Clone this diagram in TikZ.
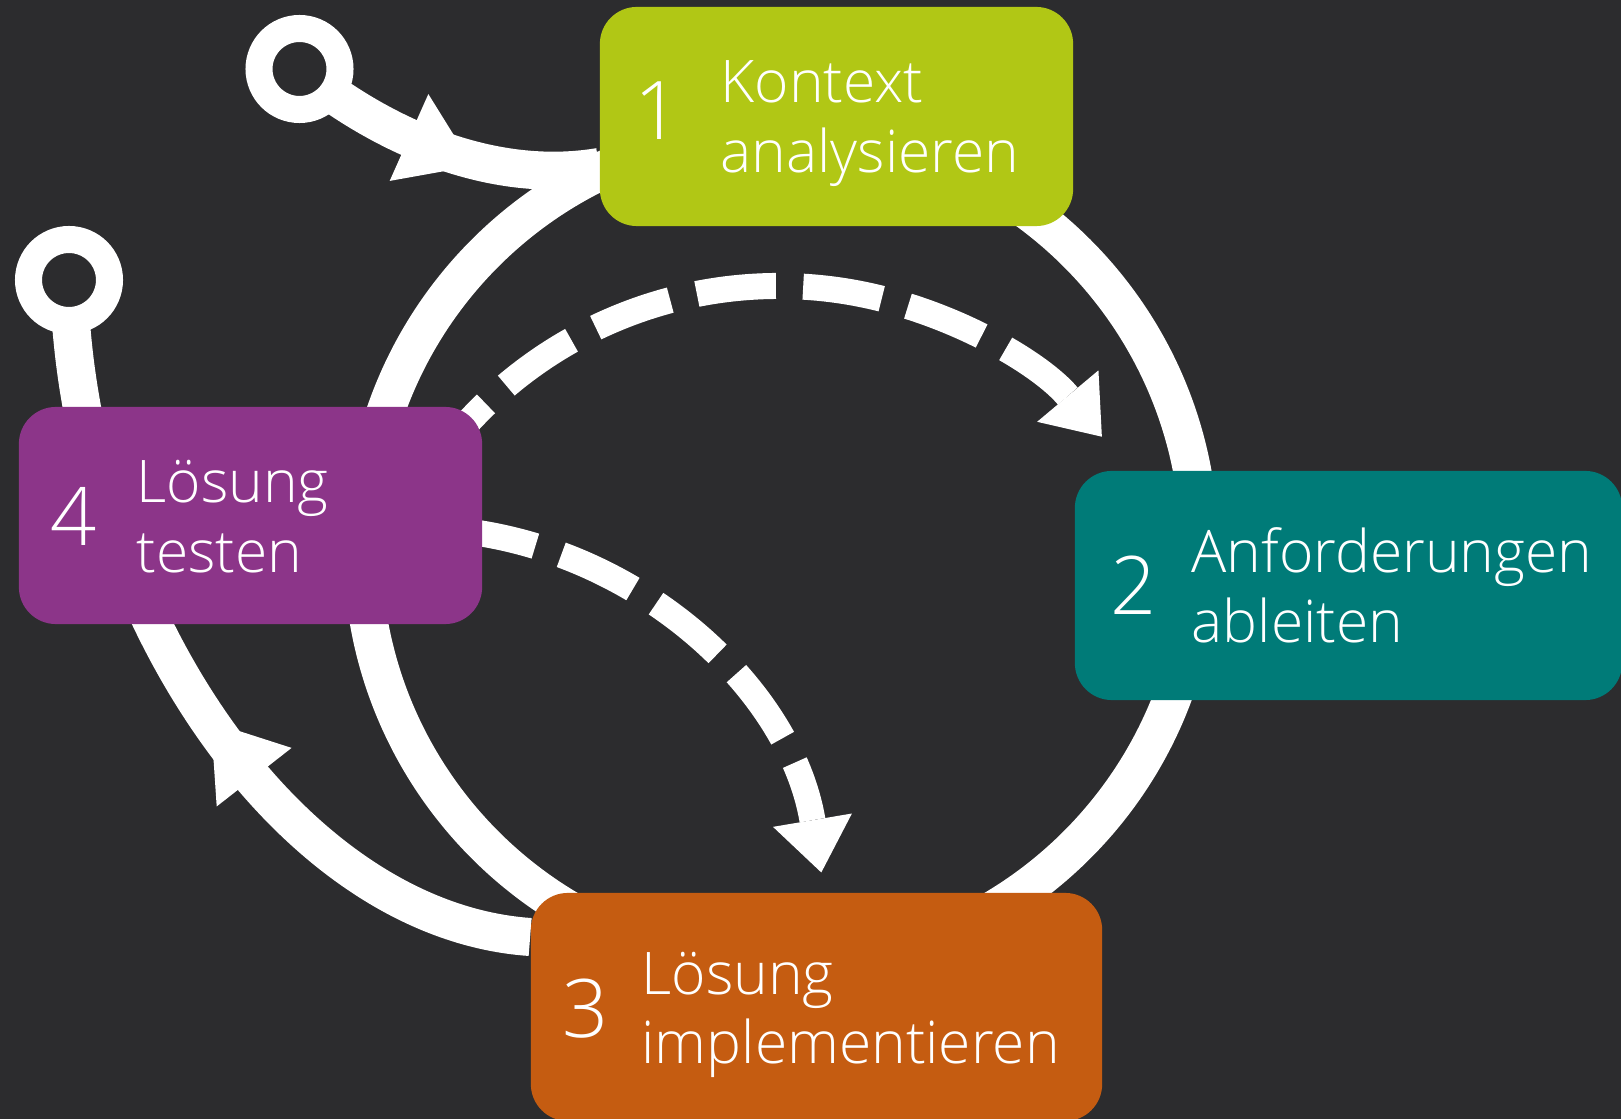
\documentclass[tikz,border=0pt]{standalone}
\usepackage{fontspec}
\setmainfont{Open Sans}[UprightFont=* Light]
\usetikzlibrary{arrows.meta,backgrounds}
\definecolor{bg}{RGB}{44,44,46}
\definecolor{kontextgreen}{RGB}{177,199,21}
\definecolor{anfordteal}{RGB}{0,123,120}
\definecolor{implemorange}{RGB}{197,92,17}
\definecolor{testenpurple}{RGB}{140,53,137}
\tikzset{
  every node/.style={inner sep=0pt, text=white},
  stepbox/.style={rectangle, rounded corners=0.37cm},
  stepnum/.style={anchor=base west, font=\fontsize{23}{23}\selectfont},
  steptext/.style={anchor=base west, font=\fontsize{16.7}{19.9}\selectfont},
  cycleline/.style={white, line width=0.38cm},
  startring/.style={draw=white, fill=bg, line width=0.27cm},
  skipline/.style={white, line width=0.26cm, dash pattern=on 0.795cm off 0.273cm,
    -{Triangle[length=0.53cm, width=0.8cm, line width=0pt]}},
  midhead/.style={white, line width=0.4pt, -{Triangle[length=0.7cm, width=0.95cm, line width=0pt]}}
}

\begin{document}
\begin{tikzpicture}[x=0.01cm, y=-0.01cm]
  \useasboundingbox (0,0) rectangle (1621,1119);
  % the four steps
  \node[stepbox, fill=kontextgreen, minimum width=4.73cm, minimum height=2.19cm] (kontext) at (836.5,116.5) {};
  \node[stepbox, fill=anfordteal,   minimum width=5.47cm, minimum height=2.29cm] (anford)  at (1348.5,585.5) {};
  \node[stepbox, fill=implemorange, minimum width=5.71cm, minimum height=2.28cm] (implem)  at (816.5,1007) {};
  \node[stepbox, fill=testenpurple, minimum width=4.63cm, minimum height=2.17cm] (testen)  at (250.5,515.5) {};

  \node[stepnum]  (kontext-n) at (634,139.5) {1};
  \node[steptext] (kontext-t) at (720,102.5) {\begin{tabular}[t]{@{}l@{}}Kontext\\analysieren\end{tabular}};
  \node[stepnum]  (anford-n)  at (1110,615) {2};
  \node[steptext] (anford-t)  at (1191,573) {\begin{tabular}[t]{@{}l@{}}Anforderungen\\ableiten\end{tabular}};
  \node[stepnum]  (implem-n)  at (562,1037) {3};
  \node[steptext] (implem-t)  at (641,994) {\begin{tabular}[t]{@{}l@{}}Lösung\\implementieren\end{tabular}};
  \node[stepnum]  (testen-n)  at (50,546) {4};
  \node[steptext] (testen-t)  at (136,503) {\begin{tabular}[t]{@{}l@{}}Lösung\\testen\end{tabular}};

  \begin{scope}[on background layer]
    \fill[bg] (0,0) rectangle (1621,1119);
    % main cycle
    \draw[cycleline] (781,549) circle[radius=418.5];
    % entry points
    \coordinate (start1) at (299.5,69);
    \coordinate (start2) at (69,280);
    \draw[cycleline] (start1) .. controls (380,135) and (490,185) .. (kontext.west |- 0,167);
    \draw[cycleline] (start2) .. controls (75,600) and (285,920) .. (implem.west |- 0,937);
    \draw[startring] (start1) circle[radius=40.5];
    \draw[startring] (start2) circle[radius=40.5];
    \draw[midhead] (409,137.5) -- (473,166);
    \draw[midhead] (254,777) -- (211,722);
    % shortcuts from testing
    \coordinate (skip1) at (465,425.6);
    \coordinate (skip2) at (464,531);
    \draw[skipline, dash phase=0.493cm] (skip1) arc[start angle=-138, end angle=-40, radius=422];
    \draw[skipline, dash phase=0.065cm] (skip2) arc[start angle=-83, end angle=-9.6, radius=413.5];
  \end{scope}
\end{tikzpicture}
\end{document}
